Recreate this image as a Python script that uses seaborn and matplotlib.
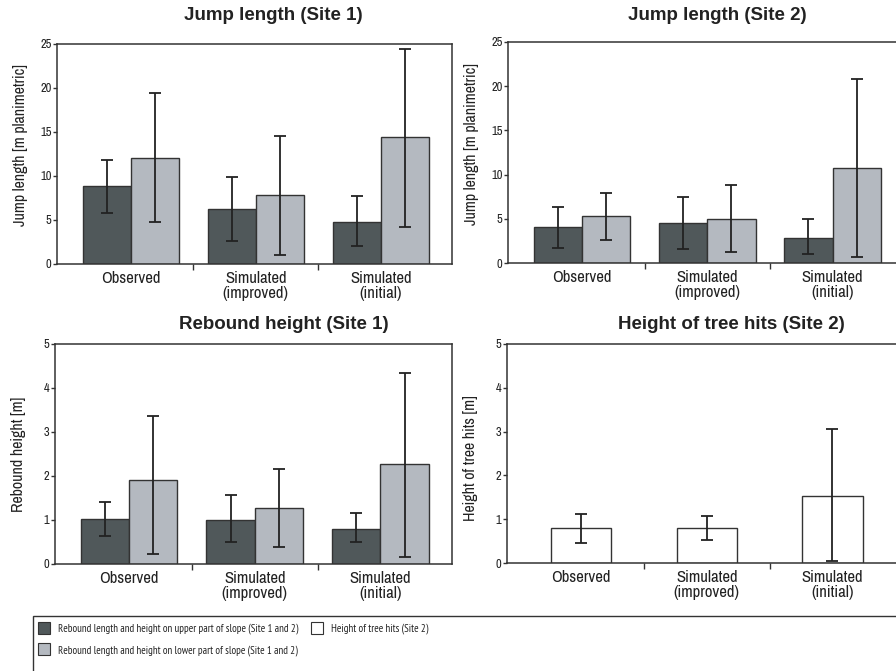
import pandas as pd
import seaborn as sns
import matplotlib.pyplot as plt
from matplotlib.patches import Patch, Rectangle

sns.set_style('ticks')
plt.rcParams['font.family'] = ['Archivo Narrow', 'Liberation Sans', 'DejaVu Sans']

# categories
categories = ['Observed', 'Simulated\n(improved)', 'Simulated\n(initial)']
parts = ['upper', 'lower']

# Jump length (Site 1)
jump1_upper = [8.85, 6.24, 4.8]
jump1_upper_lo = [5.79, 2.65, 2.04]
jump1_upper_hi = [11.8, 9.83, 7.68]
jump1_lower = [12.1, 7.79, 14.45]
jump1_lower_lo = [4.8, 1.02, 4.16]
jump1_lower_hi = [19.48, 14.52, 24.43]

# Jump length (Site 2)
jump2_upper = [4.07, 4.49, 2.87]
jump2_upper_lo = [1.73, 1.58, 0.98]
jump2_upper_hi = [6.3, 7.47, 4.94]
jump2_lower = [5.28, 4.98, 10.71]
jump2_lower_lo = [2.64, 1.28, 0.72]
jump2_lower_hi = [7.92, 8.86, 20.78]

# Rebound height (Site 1)
rebound_upper = [1.03, 0.99, 0.79]
rebound_upper_lo = [0.63, 0.5, 0.49]
rebound_upper_hi = [1.40, 1.56, 1.16]
rebound_lower = [1.92, 1.27, 2.28]
rebound_lower_lo = [0.23, 0.39, 0.17]
rebound_lower_hi = [3.37, 2.17, 4.34]

# Height of tree hits (Site 2)
tree = [0.80, 0.80, 1.54]
tree_lo = [0.46, 0.53, 0.04]
tree_hi = [1.12, 1.07, 3.05]

dark = '#50585a'
light = '#b4b9c0'
edge = '#333333'
W, H = 896, 671


def add_ax(left, right, top, bottom):
    return fig.add_axes([left / W, 1 - bottom / H, (right - left) / W, (bottom - top) / H])


def style_ax(ax, ymax, ylabel, label_y=0.5):
    ax.set_ylim(0, ymax)
    ax.set_xlim(-0.59, 2.57)
    ax.set_yticks(range(0, ymax + 1, ymax // 5))
    ax.set_xticks([0, 1, 2])
    ax.set_xticklabels(categories, fontsize=12, color='#222222', linespacing=1.0)
    ax.set_xticks([0.5, 1.5], minor=True)
    ax.tick_params(axis='x', which='major', length=0, pad=5)
    ax.tick_params(axis='x', which='minor', length=4, width=1, color=edge, direction='out')
    ax.tick_params(axis='y', length=3, width=1, color=edge, pad=1, labelsize=9, labelcolor='#222222')
    ax.set_xlabel('')
    ax.set_ylabel(ylabel, fontsize=11.5, color='#222222')
    ax.yaxis.set_label_coords(-0.073, label_y)
    for sp in ax.spines.values():
        sp.set_visible(True)
        sp.set_color(edge)
        sp.set_linewidth(1.1)


def paired_panel(ax, up, up_lo, up_hi, low, low_lo, low_hi, ymax, ylabel, label_y=0.5):
    df = pd.DataFrame({
        'cat': categories * 2,
        'part': ['upper'] * 3 + ['lower'] * 3,
        'val': up + low,
    })
    sns.barplot(data=df, x='cat', y='val', hue='part', hue_order=parts,
                palette=[dark, light], width=0.77, errorbar=None,
                edgecolor=edge, linewidth=1.0, saturation=1, legend=False, ax=ax)
    for cont, vals, lo, hi in zip(ax.containers, [up, low], [up_lo, low_lo], [up_hi, low_hi]):
        xs = [b.get_x() + b.get_width() / 2 for b in cont]
        ax.errorbar(xs, vals, yerr=[[v - l for v, l in zip(vals, lo)], [h - v for v, h in zip(vals, hi)]],
                    fmt='none', ecolor='#222222', elinewidth=1.3, capsize=4.5, capthick=1.3)
    style_ax(ax, ymax, ylabel, label_y)


fig = plt.figure(figsize=(W / 100, H / 100), dpi=100)

ax1 = add_ax(57, 452, 44, 264)
paired_panel(ax1, jump1_upper, jump1_upper_lo, jump1_upper_hi,
             jump1_lower, jump1_lower_lo, jump1_lower_hi, 25, 'Jump length [m planimetric]', 0.54)

ax2 = add_ax(508, 904, 42, 263)
paired_panel(ax2, jump2_upper, jump2_upper_lo, jump2_upper_hi,
             jump2_lower, jump2_lower_lo, jump2_lower_hi, 25, 'Jump length [m planimetric]', 0.54)

ax3 = add_ax(55, 452, 344, 564)
paired_panel(ax3, rebound_upper, rebound_upper_lo, rebound_upper_hi,
             rebound_lower, rebound_lower_lo, rebound_lower_hi, 5, 'Rebound height [m]')

ax4 = add_ax(507, 904, 344, 563)
df_tree = pd.DataFrame({'cat': categories, 'val': tree})
sns.barplot(data=df_tree, x='cat', y='val', color='white', width=0.48, errorbar=None,
            edgecolor=edge, linewidth=1.0, saturation=1, ax=ax4)
ax4.errorbar([0, 1, 2], tree, yerr=[[v - l for v, l in zip(tree, tree_lo)], [h - v for v, h in zip(tree, tree_hi)]],
             fmt='none', ecolor='#222222', elinewidth=1.3, capsize=4.5, capthick=1.3)
style_ax(ax4, 5, 'Height of tree hits [m]', 0.48)

# panel titles
title_kw = dict(fontsize=13.5, fontweight='bold', color='#222222', ha='center', va='center',
                family=['Liberation Sans', 'DejaVu Sans'])
fig.text(273 / W, 1 - 16 / H, 'Jump length (Site 1)', **title_kw)
fig.text(717 / W, 1 - 16 / H, 'Jump length (Site 2)', **title_kw)
fig.text(284 / W, 1 - 324 / H, 'Rebound height (Site 1)', **title_kw)
fig.text(731 / W, 1 - 324 / H, 'Height of tree hits (Site 2)', **title_kw)

# legend frame
fig.patches.append(Rectangle((33 / W, -0.1), 1.0, 1 - 616 / H + 0.1, transform=fig.transFigure,
                             fill=False, edgecolor=edge, linewidth=1.0))

h_upper = Patch(facecolor=dark, edgecolor=edge, linewidth=0.8,
                label='Rebound length and height on upper part of slope (Site 1 and 2)')
h_lower = Patch(facecolor=light, edgecolor=edge, linewidth=0.8,
                label='Rebound length and height on lower part of slope (Site 1 and 2)')
h_tree = Patch(facecolor='white', edgecolor=edge, linewidth=0.8, label='Height of tree hits (Site 2)')

leg_kw = dict(frameon=False, handlelength=1.12, handleheight=1.33,
              handletextpad=0.72, labelspacing=0.85, borderaxespad=0, borderpad=0,
              prop={'family': ['PT Sans Narrow', 'Archivo Narrow', 'DejaVu Sans'], 'size': 7.8})
leg1 = fig.legend(handles=[h_upper, h_lower], loc='upper left',
                  bbox_to_anchor=(38 / W, 1 - 622 / H), **leg_kw)
for t in leg1.get_texts():
    t.set_color('#222222')
leg2 = fig.legend(handles=[h_tree], loc='upper left',
                  bbox_to_anchor=(311 / W, 1 - 622 / H), **leg_kw)
for t in leg2.get_texts():
    t.set_color('#222222')

fig.savefig('out.png', dpi=100)
